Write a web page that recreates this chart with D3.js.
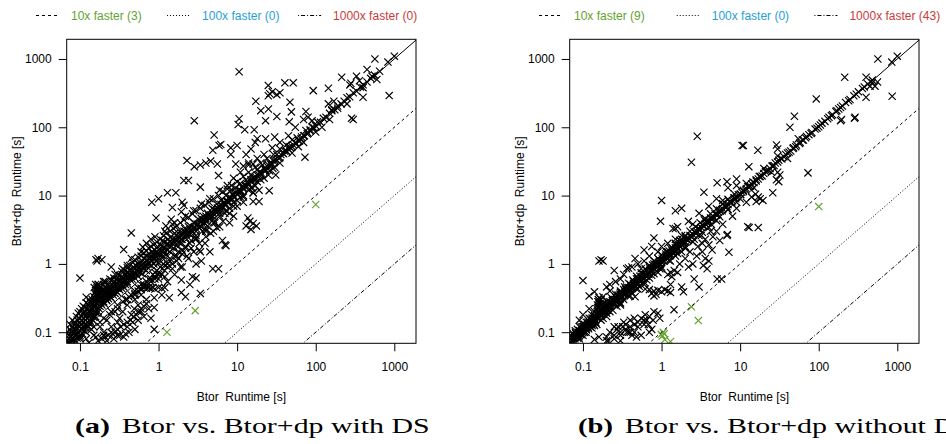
<!DOCTYPE html>
<meta charset="utf-8">
<head>
  <script src="https://d3js.org/d3.v7.min.js"></script>
  <style>
    body { margin: 0; background: #fff; }
    text { font-family: "Liberation Sans", Arial, sans-serif; }
    .tick text { font-size: 12px; fill: #000; }
    .tick line { stroke: #000; }
    .caption { font-family: "Liberation Serif", serif; font-size: 21px; fill: #000; }
  </style>
</head>
<body>
<script>

// axis setup
var tickValues = [0.1, 1, 10, 100, 1000];
var limitsX = [0.0678, 1888], limitsY = [0.0688, 1940];

// reference lines: Btor+dp is N times faster
var speedups = [10, 100, 1000];
var legendNames = ["10x faster", "100x faster", "1000x faster"];
var legendColors = ["#62a32e", "#27a0d9", "#c93b3c"];
var legendDash = ["3,3", "1,2", "1,2,4,2"];
var countsWithDS = [3, 0, 0];
var countsWithoutDS = [9, 0, 43];

// [Btor runtime, Btor+dp runtime] in seconds -- (a) with DS
var bandWithDS = [[0.07,0.072],[0.072,0.08],[0.075,0.07],[0.076,0.085],[0.078,0.075],[0.08,0.09],[0.082,0.08],[0.085,0.1],[0.085,0.078],[0.088,0.088],[0.09,0.095],[0.09,0.11],[0.092,0.082],[0.095,0.1],[0.097,0.12],[0.1,0.09],[0.1,0.105],[0.102,0.13],[0.105,0.11],[0.108,0.095],[0.11,0.12],[0.11,0.14],[0.113,0.105],[0.115,0.13],[0.118,0.15],[0.12,0.115],[0.12,0.125],[0.123,0.16],[0.125,0.14],[0.128,0.12],[0.13,0.17],[0.13,0.135],[0.133,0.15],[0.135,0.19],[0.138,0.14],[0.14,0.16],[0.142,0.21],[0.145,0.15],[0.148,0.18],[0.15,0.24],[0.15,0.165],[0.152,0.28],[0.155,0.2],[0.155,0.32],[0.158,0.17],[0.16,0.36],[0.16,0.22],[0.162,0.42],[0.165,0.19],[0.165,0.48],[0.168,0.26],[0.17,0.2],[0.17,0.3],[0.172,0.5],[0.175,0.22],[0.178,0.35],[0.18,0.24],[0.18,0.45],[0.185,0.27],[0.19,0.25],[0.19,0.4],[0.195,0.3],[0.2,0.28],[0.2,0.35],[0.205,0.26],[0.21,0.32],[0.215,0.3],[0.22,0.38],[0.22,0.29],[0.225,0.34],[0.23,0.31],[0.235,0.42],[0.24,0.33],[0.245,0.36],[0.25,0.32],[0.25,0.45],[0.26,0.38],[0.265,0.35],[0.27,0.41],[0.28,0.37],[0.28,0.5],[0.29,0.4],[0.3,0.44],[0.3,0.38],[0.31,0.55],[0.32,0.42],[0.33,0.48],[0.34,0.44],[0.35,0.6],[0.35,0.5],[0.36,0.46],[0.37,0.55],[0.38,0.5],[0.39,0.7],[0.4,0.55],[0.41,0.5],[0.42,0.62],[0.44,0.58],[0.45,0.75],[0.46,0.6],[0.48,0.68],[0.5,0.62],[0.5,0.85],[0.52,0.7],[0.54,0.78],[0.55,0.66],[0.57,0.9],[0.58,0.75],[0.6,0.82],[0.62,0.72],[0.63,1.0],[0.65,0.85],[0.67,0.95],[0.7,0.8],[0.7,1.1],[0.72,0.9],[0.75,1.0],[0.77,1.25],[0.8,0.95],[0.82,1.1],[0.85,1.4],[0.87,1.0],[0.9,1.2],[0.93,1.1],[0.95,1.5],[1.0,1.2],[1.0,1.05],[1.05,1.4],[1.1,1.25],[1.1,1.8],[1.15,1.3],[1.2,1.5],[1.25,1.35],[1.3,2.0],[1.3,1.6],[1.4,1.5],[1.45,1.8],[1.5,2.3],[1.55,1.7],[1.6,2.0],[1.7,1.85],[1.75,2.5],[1.8,2.1],[1.9,2.0],[2.0,2.6],[2.0,2.3],[2.1,3.0],[2.2,2.4],[2.3,2.8],[2.4,3.5],[2.5,2.7],[2.6,3.2],[2.7,2.9],[2.8,4.0],[3.0,3.3],[3.1,3.8],[3.2,4.5],[3.4,3.6],[3.5,4.2],[3.7,5.0],[3.8,4.0],[4.0,4.6],[4.2,5.5],[4.4,4.6],[4.6,5.2],[4.8,6.5],[5.0,5.4],[5.2,6.0],[5.5,7.5],[5.7,6.0],[6.0,6.8],[6.3,8.5],[6.5,7.0],[7.0,7.8],[7.2,10],[7.5,8.0],[8.0,9.0],[8.3,12],[8.6,9.0],[9.0,10],[9.5,13],[10,10.5],[10,11.5],[11,12],[11,15],[12,12.5],[12.5,14],[13,17],[14,14.5],[15,16],[15,20],[16,17],[17,19],[18,24],[19,20],[20,22],[21,28],[23,24],[24,27],[26,30],[28,29],[30,33],[32,40],[35,36],[38,42],[40,45],[43,44],[46,52],[50,52],[55,60],[58,70],[62,63],[66,72],[70,75],[75,90],[80,82],[85,92],[90,100],[100,105],[105,120],[115,118],[125,135],[135,140],[150,160],[160,175],[175,180],[190,205],[210,220],[230,240],[250,270],[270,280],[300,320],[330,340],[370,390],[400,420],[450,460],[500,520],[560,580],[650,660],
  [0.3,0.25],[0.5,0.4],[0.8,0.6],[1.2,0.95],[2,1.6],[3,2.4],[5,4],[8,6.5],[12,10],[20,17],[30,26],[60,52],[120,100],[250,220],
  [0.15,0.25],[0.155,0.3],[0.16,0.35],[0.16,0.4],[0.165,0.45],[0.17,0.5],[0.15,0.28],[0.145,0.22]];

var denseWithDS = [[0.07,0.1],[0.072,0.09],[0.074,0.11],[0.078,0.1],[0.08,0.12],[0.083,0.11],[0.086,0.13],[0.089,0.12],[0.092,0.15],[0.094,0.13],[0.098,0.16],[0.1,0.14],[0.104,0.17],[0.107,0.15],[0.11,0.19],[0.112,0.16],[0.116,0.2],[0.119,0.18],[0.122,0.22],[0.126,0.19],[0.13,0.25],[0.133,0.21],[0.136,0.27],[0.14,0.23],[0.143,0.3],[0.147,0.26],
  [0.15,0.33],[0.152,0.45],[0.156,0.38],[0.158,0.5],[0.163,0.4],[0.167,0.33],[0.17,0.42],[0.174,0.28],[0.177,0.4],[0.182,0.32],[0.186,0.36],[0.19,0.33],[0.196,0.42],[0.2,0.38],[0.205,0.45],[0.21,0.4],[0.215,0.36],[0.22,0.44],[0.228,0.4],[0.235,0.36],[0.24,0.48],[0.248,0.42],[0.255,0.38],[0.26,0.5],[0.27,0.46],[0.275,0.55],[0.285,0.44],[0.29,0.52],[0.295,0.6],
  [0.3,0.5],[0.31,0.45],[0.32,0.58],[0.33,0.52],[0.34,0.65],[0.35,0.55],[0.36,0.62],[0.37,0.7],[0.38,0.58],[0.39,0.62],[0.4,0.75],[0.41,0.66],[0.43,0.72],[0.44,0.8],[0.45,0.66],[0.47,0.78],[0.48,0.9],[0.5,0.75],[0.51,0.95],[0.53,0.82],[0.55,1.0],[0.56,0.88],[0.58,1.05],[0.6,0.95],[0.62,1.1],[0.64,0.9],[0.66,1.2],[0.68,1.05],[0.7,1.3],[0.72,1.15],[0.74,1.05],[0.76,1.4],[0.78,1.2],[0.8,1.3],[0.83,1.5],[0.85,1.2],[0.88,1.35],[0.9,1.6],[0.92,1.3],[0.95,1.4],[0.97,1.8],
  [1.0,1.6],[1.03,1.35],[1.07,1.9],[1.1,1.55],[1.15,1.7],[1.18,2.1],[1.22,1.7],[1.27,1.9],[1.32,2.3],[1.36,1.8],[1.4,2.1],[1.45,2.5],[1.5,2.0],[1.55,2.2],[1.6,2.8],[1.65,2.3],[1.7,2.6],[1.78,2.3],[1.85,3.0],[1.9,2.6],[1.95,2.3],[2.05,2.8],[2.15,3.3],[2.25,2.7],[2.35,3.1],[2.45,2.8],[2.55,3.6],[2.65,3.1],[2.8,3.4],[2.9,3.9],[3.0,3.0],[3.2,3.8],[3.3,3.4],[3.5,4.6],[3.6,3.9],[3.8,4.4],[4.0,5.0],[4.1,4.2],[4.3,5.2],[4.5,4.9],[4.7,5.8],[4.9,5.0],[5.1,6.2],[5.4,5.8],[5.6,6.6],[5.9,6.2],[6.2,7.4],[6.5,6.6],[6.8,8],[7.0,7.2],[7.3,8.5],[7.7,8.1],[8.0,9.5],[8.4,8.6],[8.8,10.5],[9.2,9.5],[9.6,11],
  [10.5,12],[11,11.5],[11.5,13.5],[12,13],[13,14],[13.5,16],[14,15],[15,17],[16,18],[17,18],[18,20],[19,22],[20,21],[22,25],[23,23],[25,28],[27,28],[29,32],[31,34],[34,35],[36,40],[39,41],[42,45],[45,48],[48,50],[52,55],[56,58],[60,64],[65,68],[72,75],[78,80],[85,88],[95,98],
  [0.2,0.16],[0.25,0.2],[0.35,0.28],[0.45,0.35],[0.6,0.5],[0.9,0.75],[1.4,1.1],[2.5,2.0],[4,3.2],[6,5],[10,8.5],[15,13],[0.12,0.1],[0.15,0.12],[0.1,0.085],[0.085,0.072]];

var spreadWithDS = [[0.5,0.35],[0.55,0.4],[0.6,0.42],[0.65,0.5],[0.7,0.48],[0.75,0.6],[0.8,0.55],[0.85,0.7],[0.9,0.65],[0.95,0.8],[1.0,0.6],[1.05,0.9],[1.1,0.7],[1.15,1.0],[1.2,0.65],[1.3,0.9],[1.4,1.2],[1.5,0.85],[1.6,1.3],[1.7,1.1],[1.8,1.5],[1.9,0.9],[2.0,1.4],[2.2,1.8],[2.4,1.2],[2.6,2.2],[2.8,1.5],[3.0,2.6],[3.3,1.6],[3.6,3.0],[3.9,2.0],[4.2,3.6],[4.6,2.8],[5.0,4.5],[5.5,3.4],[6.0,5.5],[6.6,4.2],[7.2,6.0],[8,5.5],[9,8],[10,7],[11,9.5],[12,8],[14,12],[16,11],[18,16],[22,18],[26,23],
  [0.9,2.5],[1.2,3.0],[1.6,4.0],[2.2,5.0],[2.8,6.0],[3.5,7.5],[4.5,9.0],[6,12],[7.5,14],[9,18],[11,22],[14,30],[18,35],[22,40],[28,50],[35,60],[45,75],[0.6,1.5],[0.7,2.0],[0.45,1.2],[0.4,0.95],[0.35,0.85],[0.28,0.7],[0.24,0.6],[0.2,0.55],
  [0.17,0.075],[0.19,0.08],[0.21,0.085],[0.23,0.09],[0.26,0.095],[0.28,0.1],[0.3,0.11],[0.33,0.12],[0.36,0.13],[0.4,0.14],[0.44,0.15],[0.48,0.17],[0.52,0.18],[0.56,0.2],[0.6,0.22],[0.65,0.24],[0.7,0.26],[0.22,0.075],[0.27,0.08],[0.32,0.09],[0.38,0.095],[0.42,0.1],[0.5,0.11]];

var extraWithDS = [[0.075,0.13],[0.08,0.15],[0.085,0.14],[0.09,0.17],[0.095,0.19],[0.1,0.2],[0.105,0.22],[0.11,0.24],[0.115,0.23],[0.12,0.27],[0.125,0.26],[0.13,0.3],[0.2,0.5],[0.21,0.55],[0.23,0.5],[0.25,0.58],[0.27,0.62],[0.3,0.7],[0.32,0.68],[0.34,0.78],[0.37,0.8],[0.4,0.88],[0.43,0.95],[0.47,1.05],[0.5,1.15],[0.55,1.25],[0.6,1.3],[0.65,1.45],[0.7,1.55],[0.75,1.7],[0.8,1.8],[0.87,1.9],[0.95,2.1],[1.05,2.3],[1.15,2.6],[1.25,2.8],[1.4,3.0],[1.55,3.3],[1.7,3.6],[1.9,4.0],[2.1,4.4],[2.4,4.8],[2.7,5.4],[3.0,6.0],[3.4,6.5],[3.9,7.2],[4.4,8.0],[5.0,9.0],[5.8,10],[6.6,11.5],[7.5,12.5],[8.5,14],[10,16],[12,19],[14,22],[17,26],[20,30],[24,35],[29,40],[35,48],[42,55],[50,65],
  [0.1,0.08],[0.14,0.11],[0.18,0.14],[0.24,0.18],[0.3,0.22],[0.4,0.3],[0.5,0.37],[0.65,0.48],[0.8,0.6],[1.0,0.75],[1.3,1.0],[1.7,1.3],[2.2,1.7],[3,2.3],[4,3],[5.2,4],[7,5.5],[9,7],[12,9.5],[17,14],[25,20],[35,30],[50,42],[70,60],[100,85],[150,130]];

var aboveWithDS = [[2.85,125],[10.6,650],[10.6,133],[5.1,77],[5.9,54],[6.2,56],[4.9,46],[8.3,50],[8.3,40],[2.3,32.5],[2.85,26.5],[3.4,28],[4.0,30],[4.6,32],[5.6,29],[9.6,29],[5.8,19.6],[3.4,13.3],[2.1,16.6],[2.4,16.6],[1.3,11],[1.66,11],[0.82,8],[1.0,9],[0.93,4.7],[1.5,6.7],[2.0,8],[1.45,4.5],[1.5,3.8],[0.45,2.84],[0.36,1.62],[0.16,1.15],[0.17,1.2],[0.19,1.15],[0.165,1.1],[0.25,0.9],[0.1,0.62],[0.12,0.325],[0.63,1.76],[0.8,2.3],[1.13,2.2],[2.1,7.2],[1.95,5.8],[1.24,3.6],
  [566,1000],[830,900],[1000,1100],[860,291],[214,540],[272,417],[280,440],[330,560],[450,700],[360,480],[520,560],[400,380],[600,500],[400,275],[145,373],[93,344],[40.5,447],[51.7,447],[24.9,410],[24.9,290],[28,330],[32,300],[26,310],[35,320],[47,233],[17.3,240],[20,175],[25,185],[49,168],[75,170],[80,140],[70,130],[90,125],[145,220],[170,240],[190,190],[160,180],[286,136],[300,130],[32,144],[23,125],[46,120],[55,100],[12.5,92],[16.5,92],[10.3,110],[17,60],[18,68],[23,68],[30,72],[10,54],[13,40],[15,48],[73,36.5],[12,27],[16,29],[14,28],[28.5,25],[31,20],[15.6,13],[19,12],[16,11],[25.6,11.8],[16,8.2],[19,8.2],[13.7,4.7],[14.5,4.2],[13,3.6],[15,3.2],[17.6,3.6],[16,3.9]];

var belowWithDS = [[7.2,1.85],[4.9,0.85],[5.8,0.85],[3.4,1.5],[3.5,1.1],[2.7,0.65],[3.0,0.62],[1.95,0.58],[1.95,0.38],[2.2,0.33],[1.37,0.32],[0.88,0.32],[0.88,0.23],[0.49,0.22],[0.47,0.14],[0.55,0.15],[0.65,0.17],[0.8,0.16],[0.16,0.085],[0.2,0.09],[0.25,0.1],[0.36,0.085],[0.88,0.11],[7,1.9],[3.4,0.37],
  [0.55,0.45],[0.6,0.44],[0.65,0.45],[0.7,0.44],[0.75,0.45],[0.8,0.44],[0.85,0.45],[0.9,0.43],[1.0,0.45],[1.1,0.44],[1.2,0.45],
  [0.25,0.12],[0.3,0.14],[0.3,0.09],[0.35,0.2],[0.4,0.12],[0.4,0.25],[0.45,0.18],[0.5,0.3],[0.55,0.25],[0.6,0.35],[0.6,0.2],[0.7,0.3],[0.7,0.55],[0.75,0.22],[0.9,0.6],[1.0,0.7],[1.1,0.35],[1.2,0.8],[1.3,0.55],[1.5,1.0],[1.6,0.7],[1.8,1.2],[2.0,0.9],[2.3,1.3],[2.5,0.5],[2.6,1.7],[3.0,1.0],[3.3,2.0],[4,2.5],[4.5,1.5],[5.0,3.0],[6.0,3.5],[6.5,2.2],[8,4],[9,5],[0.2,0.1],[0.22,0.15],[0.18,0.12],[0.28,0.2],[0.15,0.09],[0.12,0.08],[0.32,0.16],[0.38,0.3],[0.42,0.33],[0.13,0.07],
  [1.28,0.1],[2.93,0.207],[100,7.4]];

// (b) without DS
var bandWithoutDS = [[0.07,0.072],[0.072,0.075],[0.075,0.08],[0.077,0.073],[0.08,0.085],[0.082,0.09],[0.085,0.082],[0.088,0.095],[0.09,0.09],[0.093,0.1],[0.095,0.095],[0.1,0.105],[0.1,0.11],[0.103,0.1],[0.106,0.115],[0.11,0.112],[0.113,0.12],[0.116,0.118],[0.12,0.13],[0.12,0.125],[0.125,0.13],[0.128,0.14],[0.13,0.135],[0.135,0.145],[0.14,0.14],[0.14,0.16],[0.145,0.15],[0.15,0.165],[0.15,0.22],[0.155,0.16],[0.155,0.28],[0.16,0.17],[0.16,0.32],[0.165,0.18],[0.17,0.175],[0.17,0.25],[0.175,0.19],[0.18,0.185],[0.185,0.2],[0.19,0.21],[0.195,0.2],[0.2,0.22],[0.205,0.21],[0.21,0.23],[0.22,0.235],[0.225,0.24],[0.23,0.25],[0.24,0.26],[0.25,0.26],[0.26,0.28],[0.27,0.29],[0.28,0.3],[0.29,0.31],[0.3,0.32],[0.31,0.34],[0.32,0.33],[0.33,0.36],[0.35,0.37],[0.36,0.4],[0.38,0.4],[0.4,0.43],[0.41,0.45],[0.43,0.46],[0.45,0.48],[0.47,0.52],[0.5,0.53],[0.52,0.56],[0.55,0.58],[0.57,0.62],[0.6,0.63],[0.63,0.68],[0.65,0.7],[0.68,0.72],[0.7,0.76],[0.73,0.78],[0.76,0.82],[0.8,0.85],[0.83,0.9],[0.86,0.92],[0.9,0.97],[0.95,1.0],[1.0,1.05],[1.0,1.1],[1.05,1.12],[1.1,1.18],[1.15,1.22],[1.2,1.3],[1.25,1.32],[1.3,1.4],[1.4,1.48],[1.45,1.55],[1.5,1.6],[1.6,1.7],[1.7,1.8],[1.8,1.9],[1.9,2.05],[2.0,2.1],[2.1,2.3],[2.2,2.35],[2.4,2.5],[2.5,2.7],[2.7,2.85],[2.8,3.0],[3.0,3.2],[3.2,3.4],[3.4,3.6],[3.6,3.9],[3.8,4.0],[4.0,4.3],[4.3,4.5],[4.6,4.9],[5.0,5.2],[5.3,5.7],[5.6,5.9],[6.0,6.4],[6.5,6.8],[7.0,7.4],[7.5,8.0],[8.0,8.4],[8.5,9.2],[9.0,9.5],[10,10.5],[10.5,11.2],[11,11.5],[12,12.6],[13,13.5],[14,14.8],[15,15.5],[16,17],[17,17.5],[18,19],[20,21],[22,23],[24,25],[26,27],[28,30],[30,31],[33,35],[36,37],[40,42],[44,45],[48,50],[52,55],[57,58],[62,65],[68,70],[75,78],[82,84],[90,94],[100,102],[110,115],[120,122],[135,140],[150,152],[165,170],[180,185],[200,205],[220,230],[250,255],[280,290],[320,330],[360,370],[420,430],[480,490],
  [0.2,0.17],[0.3,0.26],[0.5,0.43],[0.7,0.62],[1.0,0.85],[1.5,1.3],[2.0,1.7],[3,2.6],[5,4.3],[7,6.2],[10,9],[15,13],[25,22],[40,35],[0.25,0.3],[0.35,0.43],[0.5,0.62],[0.8,1.0],[1.2,1.5],[2.0,2.5],[3.5,4.4],[6,7.5],[12,15],[20,25],[30,38],[55,68]];

var denseWithoutDS = [[0.07,0.08],[0.073,0.085],[0.076,0.09],[0.079,0.08],[0.081,0.095],[0.084,0.088],[0.087,0.1],[0.089,0.086],[0.091,0.105],[0.094,0.092],[0.097,0.11],[0.099,0.098],[0.102,0.12],[0.105,0.1],[0.108,0.125],[0.111,0.108],[0.114,0.13],[0.118,0.112],[0.121,0.14],[0.124,0.12],[0.127,0.15],[0.131,0.125],[0.134,0.16],[0.137,0.13],[0.142,0.17],[0.146,0.14],[0.148,0.19],[0.152,0.2],[0.153,0.25],[0.157,0.3],[0.158,0.2],[0.162,0.26],[0.163,0.19],[0.168,0.22],[0.172,0.21],[0.177,0.2],[0.18,0.23],[0.188,0.22],[0.192,0.24],[0.198,0.23],[0.203,0.25],[0.208,0.24],[0.213,0.26],[0.218,0.25],[0.223,0.27],[0.23,0.27],[0.236,0.29],[0.243,0.28],[0.25,0.3],[0.257,0.29],[0.265,0.32],[0.272,0.31],[0.28,0.34],[0.288,0.33],[0.295,0.36],[0.305,0.35],[0.315,0.38],[0.325,0.37],[0.34,0.4],[0.345,0.36],[0.355,0.42],[0.37,0.41],[0.385,0.45],[0.395,0.42],[0.41,0.48],[0.42,0.44],[0.44,0.51],[0.46,0.49],[0.48,0.55],[0.49,0.5],[0.51,0.58],[0.53,0.55],[0.56,0.64],[0.58,0.6],[0.61,0.7],[0.64,0.66],[0.67,0.75],[0.69,0.7],[0.72,0.82],[0.75,0.76],[0.78,0.88],[0.82,0.84],[0.85,0.98],[0.88,0.9],[0.92,1.05],[0.97,0.98],[1.02,1.18],[1.07,1.1],[1.12,1.3],[1.18,1.2],[1.23,1.42],[1.3,1.32],[1.36,1.55],[1.42,1.45],[1.5,1.72],[1.56,1.6],[1.65,1.9],[1.75,1.78],[1.85,2.1],[1.95,2.0],[2.05,2.35],[2.15,2.2],[2.3,2.6],[2.45,2.5],[2.6,2.95],[2.75,2.8],[2.9,3.3],[3.1,3.15],[3.3,3.75],[3.5,3.55],[3.7,4.2],[3.95,4.0],[4.2,4.7],[4.5,4.6],[4.8,5.4],[5.2,5.3],[5.5,6.1],[5.9,6.0],[6.3,7.0],[6.8,6.9],[7.3,8.1],[7.8,7.9],[8.3,9.2],[8.8,9.0],[9.5,10.3],[10.2,10.4],[11,12],[11.8,12],[12.5,13.6],[13.5,13.7],[14.5,15.8],[16,16.3],[17.5,19],[19,19.4],[21,22.5],[23,23.4],[25.5,27],[27,27.5],[31,33],[34,34.5],[38,40],[42,43],[47,49],[51,52],[58,60],[64,65],[70,73],[80,81],[95,97],[105,108],[130,133],[145,148],[170,175],[190,195],[240,245],[300,305],[380,390],
  [0.3,0.25],[0.4,0.34],[0.6,0.5],[0.9,0.75],[1.3,1.1],[1.8,1.5],[2.5,2.1],[4,3.4],[0.15,0.13],[0.2,0.19]];

var spreadWithoutDS = [[0.08,0.1],[0.09,0.12],[0.1,0.13],[0.11,0.14],[0.12,0.16],[0.13,0.18],[0.14,0.2],[0.16,0.23],[0.18,0.26],[0.2,0.28],[0.23,0.32],[0.26,0.36],[0.3,0.4],[0.34,0.46],[0.38,0.52],[0.43,0.58],[0.48,0.66],[0.55,0.74],[0.62,0.85],[0.7,0.95],[0.8,1.1],[0.9,1.2],[1.0,1.35],[1.15,1.5],[1.3,1.7],[1.5,2.0],[1.7,2.2],[2.0,2.6],[2.3,3.0],[2.7,3.5],[3.1,4.0],[3.6,4.6],[4.2,5.4],[5,6.4],[6,7.6],[7,8.8],[8.5,10.5],
  [0.1,0.09],[0.13,0.115],[0.17,0.15],[0.22,0.2],[0.27,0.24],[0.33,0.3],[0.42,0.38],[0.52,0.47],[0.65,0.58],[0.8,0.72],[1.0,0.9],[1.25,1.12],[1.6,1.42],[2.0,1.8],[2.6,2.3],[3.3,2.9],[4.3,3.8],[5.5,4.9],[7,6.3],[9,8],
  [0.16,0.28],[0.17,0.3],[0.18,0.33],[0.155,0.23],[0.165,0.26],
  [0.2,0.085],[0.25,0.09],[0.3,0.1],[0.35,0.11],[0.4,0.12],[0.45,0.13],[0.5,0.12],[0.6,0.15],[0.7,0.17],[0.8,0.2],[0.25,0.08],[0.42,0.09]];

var extraWithoutDS = [[0.07,0.09],[0.075,0.095],[0.08,0.105],[0.085,0.11],[0.09,0.105],[0.095,0.12],[0.1,0.12],[0.105,0.13],[0.11,0.125],[0.115,0.14],[0.12,0.145],[0.125,0.155],[0.13,0.16],[0.14,0.175],[0.15,0.18],[0.16,0.2],[0.17,0.21],[0.18,0.22],[0.19,0.24],[0.2,0.25],[0.22,0.28],[0.24,0.3],[0.26,0.33],[0.28,0.35],[0.3,0.38],[0.33,0.42],[0.36,0.46],[0.4,0.5],[0.44,0.55],[0.48,0.6],[0.53,0.66],[0.58,0.72],[0.64,0.8],[0.7,0.88],[0.77,0.96],[0.85,1.05],[0.93,1.15],[1.03,1.27],[1.13,1.4],[1.25,1.55],[1.38,1.7],[1.52,1.88],[1.68,2.05],[1.85,2.25],
  [0.09,0.08],[0.11,0.1],[0.14,0.125],[0.18,0.16],[0.24,0.21],[0.3,0.27],[0.38,0.34],[0.48,0.43],[0.6,0.54],[0.75,0.68],[0.95,0.85],
  [0.22,0.1],[0.27,0.11],[0.33,0.14],[0.36,0.1],[0.4,0.15],[0.55,0.16],[0.62,0.18],[0.68,0.13],[0.78,0.15],[0.3,0.075],[0.48,0.085]];

var aboveWithoutDS = [[2.85,74],[2.4,30.8],[10.6,54],[3.46,11.2],[1.0,8.5],[1.5,6],[1.8,6.5],[5.1,15.4],[6.8,16],[9,17.5],[0.97,4.2],[0.8,2.4],[1.4,3.3],[1.5,3.3],[0.16,1.1],[0.17,1.15],[0.18,1.1],[0.1,0.57],[0.25,0.8],[0.36,0.85],[0.38,0.87],[0.46,1.2],[0.12,0.34],[0.14,0.39],[0.2,0.46],[0.22,0.4],[1.5,2.3],[1.8,2.6],
  [566,1000],[850,900],[1000,1100],[860,285],[214,540],[400,540],[480,450],[560,460],[520,400],[450,400],[400,275],[285,136],[290,140],[190,125],[195,130],[93,260],[49,145],[43,100],[11,54],[16.8,46],[29,55],[30,48],[12.9,26.5],[73,21.5],[30,22],[32,20],[29,17],[31,16],[26,11],[15.7,10.5],[17,9.5],[16,8.2],[19.5,8.5],[18,9],[13,3.4],[17,3.4],[12.5,3.5],
  [0.42,0.9],[0.5,1.0],[0.55,0.85],[0.6,1.1],[0.3,0.6],[0.26,0.55],[0.33,0.7],[0.22,0.5],[0.7,1.3],[0.9,1.5],[0.12,0.22],[0.1,0.18],[0.09,0.15],[1.2,2.0],[1.0,1.8],[2.2,4.2],[2.5,3.8],[1.6,3.5],[3.0,5.5],[4.0,7],[5,9],[7,13],[6,8.5],[9,14],[0.6,1.6],[0.75,1.8]];

var belowWithoutDS = [[3.2,2.6],[3.6,2.3],[4.0,1.9],[3.3,2.0],[2.9,1.8],[6.8,2.6],[6.9,2.7],[3.3,1.5],[3.6,1.2],[3.4,0.95],[4.0,1.1],[3.8,0.85],[7.2,1.48],[5.1,0.6],[5.8,0.6],[2.6,0.6],[3,0.46],[1.8,0.46],[1.9,0.39],[1.3,0.75],[1.45,0.8],[1.6,0.75],[1.3,0.5],[1.35,0.65],[0.5,0.6],[0.62,0.43],[0.7,0.42],[0.8,0.4],[0.9,0.41],[1.0,0.39],[1.1,0.42],[1.2,0.4],[1.3,0.38],[0.75,0.37],[0.46,0.33],[0.85,0.36],[0.8,0.34],[1.44,0.214],[0.25,0.12],[0.38,0.1],[0.4,0.1],[0.45,0.1],[0.75,0.11],[0.45,0.16],[0.95,0.16],[0.9,0.19],[0.2,0.075],[0.21,0.075],[0.28,0.12],[0.32,0.12],[0.5,0.14],[0.6,0.13],[0.3,0.09],[0.55,0.09],[0.7,0.1],[0.65,0.15],[0.35,0.13],[0.16,0.085],[0.14,0.078],
  [2.0,1.2],[2.3,1.5],[2.5,1.0],[2.8,1.3],[4.5,2.5],[5,3],[5.5,2.2],[6,3.8],[4.2,3.0],[2.2,0.9],[1.7,1.0],[1.2,0.7],[4.4,1.6],[8,5],[9,6.5],[12,8],[14,9.5],
  [1.05,0.1],[1.02,0.088],[0.99,0.093],[1.08,0.095],[1.3,0.073],[2.4,0.235],[2.94,0.148],[100,6.9],[1.1,0.078]];

var svg = d3.select("body").append("svg")
    .attr("width", 946)
    .attr("height", 444);

drawPanel(0, bandWithDS.concat(denseWithDS, spreadWithDS, extraWithDS, aboveWithDS, belowWithDS), countsWithDS, "(a)", "Btor vs. Btor+dp with DS", 308, "a");
drawPanel(503, bandWithoutDS.concat(denseWithoutDS, spreadWithoutDS, extraWithoutDS, aboveWithoutDS, belowWithoutDS), countsWithoutDS, "(b)", "Btor vs. Btor+dp without DS", 347, "b");

function drawPanel(dx, points, counts, tag, caption, captionLen, id) {
  var left = 66.7 + dx, right = 416 + dx, top = 39.3, bottom = 343.3;

  var x = d3.scaleLog().domain(limitsX).range([left, right]);
  var y = d3.scaleLog().domain(limitsY).range([bottom, top]);

  var g = svg.append("g");

  g.append("clipPath").attr("id", "clip-" + id)
    .append("rect")
      .attr("x", left).attr("y", top)
      .attr("width", right - left).attr("height", bottom - top);

  var plot = g.append("g").attr("clip-path", "url(#clip-" + id + ")");

  // speedup of a point decides its colour
  function colorOf(d) {
    var c = "#000";
    speedups.forEach(function(s, i) { if (d[0] / d[1] >= s) c = legendColors[i]; });
    return c;
  }

  var sorted = points.slice().sort(function(a, b) {
    return (colorOf(a) === "#000" ? 0 : 1) - (colorOf(b) === "#000" ? 0 : 1);
  });

  plot.selectAll("path.pt")
      .data(sorted)
    .enter().append("path")
      .attr("class", "pt")
      .attr("transform", function(d) { return "translate(" + x(d[0]) + "," + y(d[1]) + ")"; })
      .attr("d", "M-3.6,-3.6L3.6,3.6M-3.6,3.6L3.6,-3.6")
      .attr("fill", "none")
      .attr("stroke", colorOf)
      .attr("stroke-width", 1.15);

  // y = x and the speedup lines
  var xs = limitsX;
  plot.append("line")
      .attr("x1", x(xs[0])).attr("y1", y(xs[0]))
      .attr("x2", x(xs[1])).attr("y2", y(xs[1]))
      .attr("stroke", "#000").attr("stroke-width", 1);

  speedups.forEach(function(s, i) {
    plot.append("line")
        .attr("x1", x(xs[0])).attr("y1", y(xs[0] / s))
        .attr("x2", x(xs[1])).attr("y2", y(xs[1] / s))
        .attr("stroke", "#000").attr("stroke-width", 1)
        .attr("stroke-dasharray", legendDash[i]);
  });

  g.append("rect")
      .attr("x", left).attr("y", top)
      .attr("width", right - left).attr("height", bottom - top)
      .attr("fill", "none").attr("stroke", "#000").attr("stroke-width", 1);

  var fmt = function(d) { return String(d); };

  var xAxis = g.append("g")
      .attr("transform", "translate(0," + bottom + ")")
      .call(d3.axisBottom(x).tickValues(tickValues).tickFormat(fmt).tickSize(8).tickSizeOuter(0).tickPadding(11));
  xAxis.select(".domain").remove();

  var yAxis = g.append("g")
      .attr("transform", "translate(" + left + ",0)")
      .call(d3.axisLeft(y).tickValues(tickValues).tickFormat(fmt).tickSize(8).tickSizeOuter(0).tickPadding(7));
  yAxis.select(".domain").remove();
  g.selectAll(".tick text").attr("font-family", null);

  g.append("text")
      .attr("x", (left + right) / 2).attr("y", 401)
      .attr("text-anchor", "middle")
      .style("font-size", "12px").style("white-space", "pre")
      .text("Btor  Runtime [s]");

  g.append("text")
      .attr("transform", "translate(" + (21 + dx) + "," + (top + bottom) / 2 + ") rotate(-90)")
      .attr("text-anchor", "middle")
      .style("font-size", "12px").style("white-space", "pre")
      .text("Btor+dp  Runtime [s]");

  // legend across the top
  var labels = legendNames.map(function(n, i) { return n + " (" + counts[i] + ")"; });
  var leg = g.append("g");
  var texts = leg.selectAll("text").data(labels).enter().append("text")
      .style("font-size", "12px")
      .attr("fill", function(d, i) { return legendColors[i]; })
      .attr("y", 20)
      .text(function(d) { return d; });
  var maxW = 0;
  texts.each(function() { maxW = Math.max(maxW, this.getComputedTextLength()); });
  var step = maxW + 47;
  texts.attr("x", function(d, i) { return dx + 71 + i * step; });
  leg.selectAll("line").data(labels).enter().append("line")
      .attr("x1", function(d, i) { return dx + 36 + i * step; })
      .attr("x2", function(d, i) { return dx + 59 + i * step; })
      .attr("y1", 15.5).attr("y2", 15.5)
      .attr("stroke", "#000").attr("stroke-width", 1)
      .attr("stroke-dasharray", function(d, i) { return legendDash[i]; });

  // sub-figure caption
  g.append("text")
      .attr("class", "caption")
      .attr("x", 75 + dx).attr("y", 433)
      .attr("font-weight", "bold")
      .attr("textLength", 35).attr("lengthAdjust", "spacingAndGlyphs")
      .text(tag);
  g.append("text")
      .attr("class", "caption")
      .attr("x", 121.7 + dx).attr("y", 433)
      .attr("textLength", captionLen).attr("lengthAdjust", "spacingAndGlyphs")
      .text(caption);
}
</script>
</body>
